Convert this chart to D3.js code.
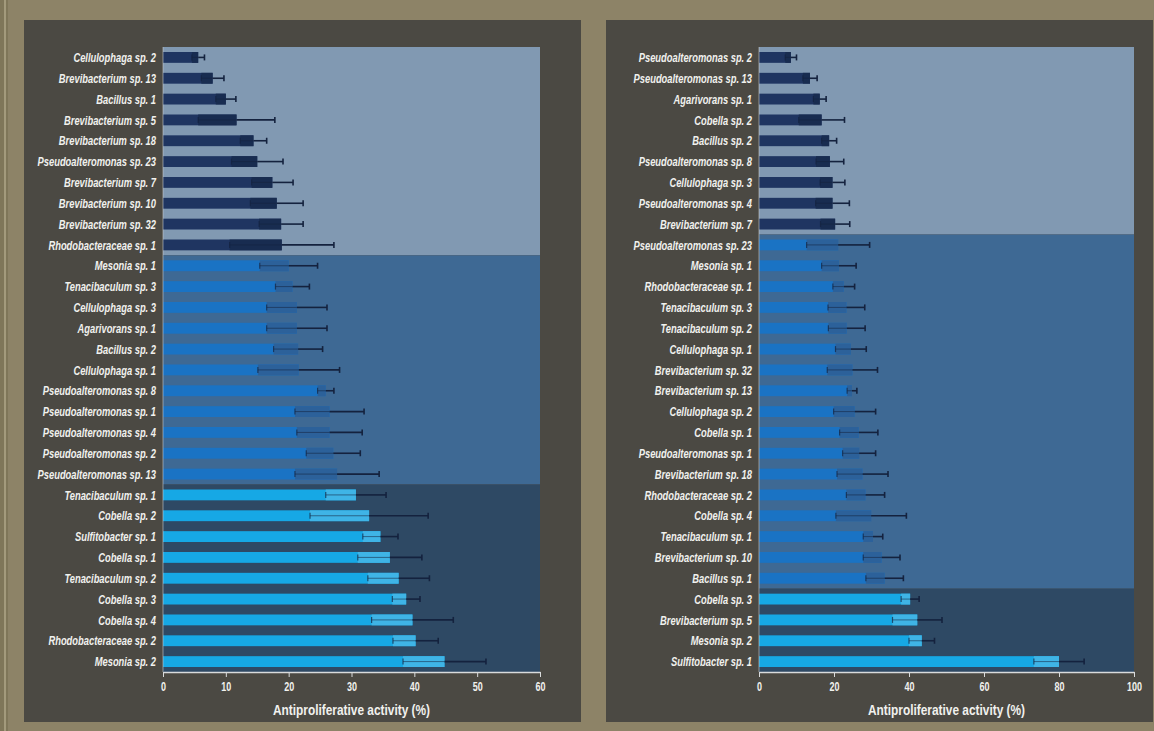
<!DOCTYPE html>
<html>
<head>
<meta charset="utf-8">
<script src="https://cdn.jsdelivr.net/npm/d3@7"></script>
<style>
  body { margin: 0; background: #8d8367; }
  svg { display: block; }
  text { font-family: "Liberation Sans", Arial, sans-serif; }
</style>
</head>
<body>
<svg id="chart" width="1154" height="731"></svg>
<script>
// Left panel: isolates ranked by antiproliferative activity (%), mean and SD
const leftNames = [
  "Cellulophaga sp. 2", "Brevibacterium sp. 13", "Bacillus sp. 1", "Brevibacterium sp. 5",
  "Brevibacterium sp. 18", "Pseudoalteromonas sp. 23", "Brevibacterium sp. 7", "Brevibacterium sp. 10",
  "Brevibacterium sp. 32", "Rhodobacteraceae sp. 1",
  "Mesonia sp. 1", "Tenacibaculum sp. 3", "Cellulophaga sp. 3", "Agarivorans sp. 1",
  "Bacillus sp. 2", "Cellulophaga sp. 1", "Pseudoalteromonas sp. 8", "Pseudoalteromonas sp. 1",
  "Pseudoalteromonas sp. 4", "Pseudoalteromonas sp. 2", "Pseudoalteromonas sp. 13",
  "Tenacibaculum sp. 1", "Cobella sp. 2", "Sulfitobacter sp. 1", "Cobella sp. 1",
  "Tenacibaculum sp. 2", "Cobella sp. 3", "Cobella sp. 4", "Rhodobacteraceae sp. 2", "Mesonia sp. 2"
];
const leftMean = [
  5.6, 7.9, 10.0, 11.7, 14.4, 15.0, 17.4, 18.1, 18.8, 18.9,
  20.0, 20.6, 21.3, 21.3, 21.5, 21.6, 25.9, 26.5, 26.5, 27.1, 27.7,
  30.7, 32.8, 34.6, 36.1, 37.5, 38.7, 39.7, 40.2, 44.8
];
const leftSD = [
  1.0, 1.8, 1.6, 6.1, 2.1, 4.1, 3.3, 4.2, 3.5, 8.3,
  4.6, 2.7, 4.8, 4.8, 3.9, 6.5, 1.3, 5.5, 5.2, 4.3, 6.7,
  4.8, 9.4, 2.8, 5.1, 4.9, 2.2, 6.5, 3.6, 6.6
];
const leftGroupSizes = [10, 11, 9];
const leftTicks = [0, 10, 20, 30, 40, 50, 60];

// Right panel
const rightNames = [
  "Pseudoalteromonas sp. 2", "Pseudoalteromonas sp. 13", "Agarivorans sp. 1", "Cobella sp. 2",
  "Bacillus sp. 2", "Pseudoalteromonas sp. 8", "Cellulophaga sp. 3", "Pseudoalteromonas sp. 4",
  "Brevibacterium sp. 7",
  "Pseudoalteromonas sp. 23", "Mesonia sp. 1", "Rhodobacteraceae sp. 1", "Tenacibaculum sp. 3",
  "Tenacibaculum sp. 2", "Cellulophaga sp. 1", "Brevibacterium sp. 32", "Brevibacterium sp. 13",
  "Cellulophaga sp. 2", "Cobella sp. 1", "Pseudoalteromonas sp. 1", "Brevibacterium sp. 18",
  "Rhodobacteraceae sp. 2", "Cobella sp. 4", "Tenacibaculum sp. 1", "Brevibacterium sp. 10",
  "Bacillus sp. 1",
  "Cobella sp. 3", "Brevibacterium sp. 5", "Mesonia sp. 2", "Sulfitobacter sp. 1"
];
const rightMean = [
  8.5, 13.6, 16.2, 16.7, 18.7, 18.9, 19.6, 19.6, 20.3,
  21.1, 21.3, 22.6, 23.3, 23.4, 24.5, 24.9, 24.8, 25.5, 26.6, 26.7, 27.6,
  28.4, 29.9, 30.4, 32.7, 33.5,
  40.3, 42.2, 43.4, 80.0
];
const rightSD = [
  1.5, 1.9, 1.7, 6.1, 2.0, 3.7, 3.3, 4.5, 3.9,
  8.4, 4.6, 2.9, 4.9, 4.9, 4.1, 6.7, 1.3, 5.6, 5.1, 4.4, 6.8,
  5.1, 9.4, 2.6, 4.9, 5.0,
  2.4, 6.6, 3.4, 6.7
];
const rightGroupSizes = [9, 17, 4];
const rightTicks = [0, 20, 40, 60, 80, 100];

// Group styling (light / medium / dark activity tiers)
const bandFill = ["#8199b2", "#3e6994", "#2e4964"];
const barFill = ["#1f3561", "#1a73c4", "#16a8e5"];
const innerFill = ["#182c50", "#2c619a", "#3fb4e6"];
const errColor = "#14223e";
const textColor = "#f1f1ee";

const svg = d3.select("#chart");

// Decorative frame edge on the far left
svg.append("rect").attr("x", 0).attr("y", 0).attr("width", 8).attr("height", 731).attr("fill", "#7f7659");
svg.append("rect").attr("x", 4).attr("y", 0).attr("width", 2).attr("height", 731).attr("fill", "#a39a7c");

function drawPanel(cfg) {
  const g = svg.append("g");
  g.append("rect")
    .attr("x", cfg.panel[0]).attr("y", cfg.panel[1])
    .attr("width", cfg.panel[2]).attr("height", cfg.panel[3])
    .attr("fill", "#4b4943");

  const n = cfg.names.length;
  const row = d3.scaleBand().domain(d3.range(n)).range([cfg.top, cfg.bottom]).padding(0);
  const x = d3.scaleLinear().domain([0, cfg.max]).range([cfg.left, cfg.right]);
  const barH = row.bandwidth() * 0.52;

  // group index for each row
  const groupOf = [];
  cfg.groups.forEach((size, gi) => { for (let k = 0; k < size; k++) groupOf.push(gi); });

  // background bands
  let start = 0;
  cfg.groups.forEach((size, gi) => {
    const end = start + size - 1;
    g.append("rect")
      .attr("x", x(0)).attr("y", row(start))
      .attr("width", x(cfg.max) - x(0))
      .attr("height", row(end) + row.bandwidth() - row(start))
      .attr("fill", bandFill[gi]);
    start += size;
  });

  const data = cfg.names.map((name, i) => ({ name, i, mean: cfg.mean[i], sd: cfg.sd[i], grp: groupOf[i] }));
  const cy = d => row(d.i) + row.bandwidth() / 2;

  // bars
  g.selectAll(".bar").data(data).join("rect")
    .attr("x", x(0)).attr("y", d => cy(d) - barH / 2)
    .attr("width", d => x(d.mean) - x(0)).attr("height", barH)
    .attr("fill", d => barFill[d.grp]);

  // shaded part of bar covered by the lower error arm
  g.selectAll(".inner").data(data).join("rect")
    .attr("x", d => x(Math.max(0, d.mean - d.sd))).attr("y", d => cy(d) - barH / 2)
    .attr("width", d => x(d.mean) - x(Math.max(0, d.mean - d.sd))).attr("height", barH)
    .attr("fill", d => innerFill[d.grp]);

  // error bars
  const eb = g.selectAll(".err").data(data).join("g").attr("stroke", errColor);
  eb.append("line")
    .attr("x1", d => x(d.mean - d.sd)).attr("x2", d => x(d.mean))
    .attr("y1", cy).attr("y2", cy).attr("stroke-width", 1).attr("stroke-opacity", 0.55);
  eb.append("line")
    .attr("x1", d => x(d.mean)).attr("x2", d => x(d.mean + d.sd))
    .attr("y1", cy).attr("y2", cy).attr("stroke-width", 1.6);
  eb.append("line")
    .attr("x1", d => x(d.mean + d.sd)).attr("x2", d => x(d.mean + d.sd))
    .attr("y1", d => cy(d) - 3).attr("y2", d => cy(d) + 3).attr("stroke-width", 1.6);
  eb.append("line")
    .attr("x1", d => x(d.mean - d.sd)).attr("x2", d => x(d.mean - d.sd))
    .attr("y1", d => cy(d) - 3).attr("y2", d => cy(d) + 3).attr("stroke-width", 1.2)
    .attr("stroke-opacity", 0.7);

  // category labels (condensed bold italic)
  g.selectAll(".lab").data(data).join("g")
    .attr("transform", d => `translate(${cfg.left - 7},${cy(d)})`)
    .append("text")
    .attr("transform", "scale(0.72,1)")
    .attr("text-anchor", "end").attr("dy", "0.36em")
    .attr("font-size", 13).attr("font-weight", "bold").attr("font-style", "italic")
    .attr("fill", textColor)
    .text(d => d.name);

  // y axis hairline
  g.append("line")
    .attr("x1", x(0)).attr("x2", x(0)).attr("y1", cfg.top).attr("y2", cfg.bottom)
    .attr("stroke", "#c9ccd0").attr("stroke-width", 1).attr("stroke-opacity", 0.6);

  // x axis
  const ax = g.append("g")
    .attr("transform", `translate(0,${cfg.bottom})`)
    .call(d3.axisBottom(x).tickValues(cfg.ticks).tickSize(5).tickSizeOuter(0).tickPadding(5));
  ax.select(".domain").attr("stroke", "#d9dbdc").attr("stroke-width", 1.5);
  ax.selectAll(".tick line").attr("stroke", "#d9dbdc").attr("stroke-width", 1);
  ax.selectAll(".tick text")
    .attr("fill", textColor).attr("font-size", 12).attr("font-weight", "bold")
    .attr("font-family", "'Liberation Sans', Arial, sans-serif")
    .attr("transform", "scale(0.75,1)");

  // axis title
  g.append("g")
    .attr("transform", `translate(${(cfg.left + cfg.right) / 2},${cfg.bottom + 43})`)
    .append("text")
    .attr("transform", "scale(0.82,1)")
    .attr("text-anchor", "middle")
    .attr("font-size", 14.5).attr("font-weight", "bold")
    .attr("fill", textColor)
    .text("Antiproliferative activity (%)");
}

drawPanel({
  panel: [24, 20, 557, 702],
  left: 163, right: 540, top: 47, bottom: 672,
  max: 60, ticks: leftTicks,
  names: leftNames, mean: leftMean, sd: leftSD, groups: leftGroupSizes
});

drawPanel({
  panel: [606, 20, 547, 702],
  left: 759, right: 1134, top: 47, bottom: 672,
  max: 100, ticks: rightTicks,
  names: rightNames, mean: rightMean, sd: rightSD, groups: rightGroupSizes
});
</script>
</body>
</html>
